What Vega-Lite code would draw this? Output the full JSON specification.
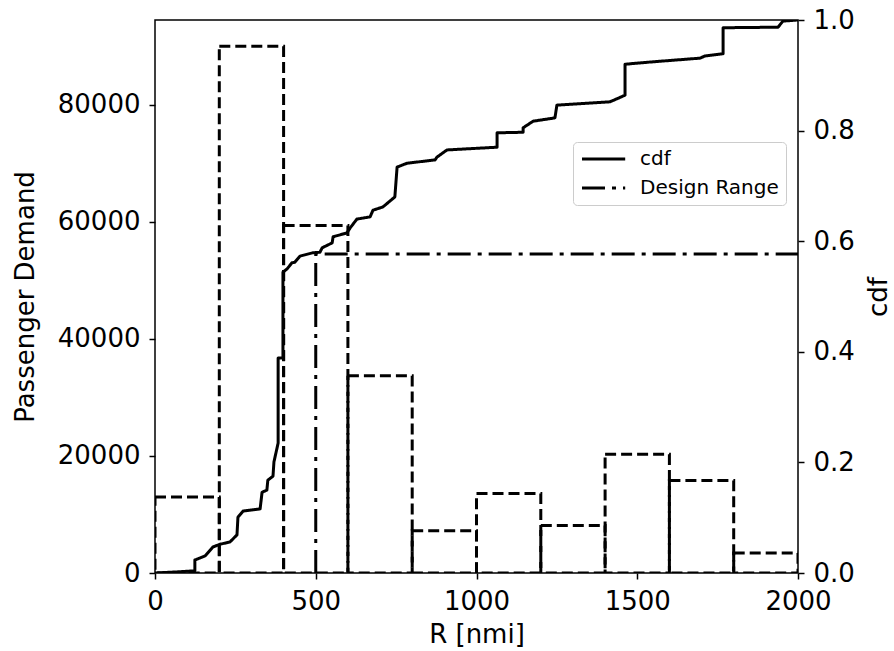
{
  "$schema": "https://vega.github.io/schema/vega-lite/v6.json",
  "autosize": {"type": "none"},
  "width": 643,
  "height": 553,
  "padding": {"left": 155, "top": 20, "right": 96, "bottom": 78},
  "background": "white",
  "config": {
    "view": {"stroke": "black", "strokeWidth": 1.5},
    "font": "DejaVu Sans",
    "axis": {
      "grid": false,
      "domain": false,
      "labelFlush": false,
      "tickColor": "black",
      "tickWidth": 1.5,
      "tickSize": 6,
      "labelFont": "DejaVu Sans",
      "labelFontSize": 26,
      "labelColor": "black",
      "labelPadding": 9,
      "titleFont": "DejaVu Sans",
      "titleFontSize": 26,
      "titleFontWeight": "normal",
      "titleColor": "black"
    }
  },
  "datasets": {
    "hist": [
      {"start": 0, "end": 200, "demand": 13000},
      {"start": 200, "end": 400, "demand": 90000},
      {"start": 400, "end": 600, "demand": 59400},
      {"start": 600, "end": 800, "demand": 33700},
      {"start": 800, "end": 1000, "demand": 7200},
      {"start": 1000, "end": 1200, "demand": 13600},
      {"start": 1200, "end": 1400, "demand": 8100},
      {"start": 1400, "end": 1600, "demand": 20300},
      {"start": 1600, "end": 1800, "demand": 15800},
      {"start": 1800, "end": 2000, "demand": 3400}
    ],
    "lines": [
      {"series": "cdf", "i": 0, "R": 0, "cdf": 0},
      {"series": "cdf", "i": 1, "R": 68, "cdf": 0.002},
      {"series": "cdf", "i": 2, "R": 124, "cdf": 0.004},
      {"series": "cdf", "i": 3, "R": 124, "cdf": 0.0235},
      {"series": "cdf", "i": 4, "R": 156, "cdf": 0.031},
      {"series": "cdf", "i": 5, "R": 180, "cdf": 0.047},
      {"series": "cdf", "i": 6, "R": 202, "cdf": 0.052},
      {"series": "cdf", "i": 7, "R": 233, "cdf": 0.056},
      {"series": "cdf", "i": 8, "R": 255, "cdf": 0.069},
      {"series": "cdf", "i": 9, "R": 258, "cdf": 0.101},
      {"series": "cdf", "i": 10, "R": 274, "cdf": 0.112},
      {"series": "cdf", "i": 11, "R": 327, "cdf": 0.116},
      {"series": "cdf", "i": 12, "R": 333, "cdf": 0.146},
      {"series": "cdf", "i": 13, "R": 348, "cdf": 0.150},
      {"series": "cdf", "i": 14, "R": 351, "cdf": 0.168},
      {"series": "cdf", "i": 15, "R": 367, "cdf": 0.175},
      {"series": "cdf", "i": 16, "R": 370, "cdf": 0.201},
      {"series": "cdf", "i": 17, "R": 383, "cdf": 0.235},
      {"series": "cdf", "i": 18, "R": 383, "cdf": 0.389},
      {"series": "cdf", "i": 19, "R": 398, "cdf": 0.389},
      {"series": "cdf", "i": 20, "R": 398, "cdf": 0.544},
      {"series": "cdf", "i": 21, "R": 411, "cdf": 0.550},
      {"series": "cdf", "i": 22, "R": 426, "cdf": 0.561},
      {"series": "cdf", "i": 23, "R": 435, "cdf": 0.562},
      {"series": "cdf", "i": 24, "R": 451, "cdf": 0.573},
      {"series": "cdf", "i": 25, "R": 491, "cdf": 0.579},
      {"series": "cdf", "i": 26, "R": 513, "cdf": 0.580},
      {"series": "cdf", "i": 27, "R": 520, "cdf": 0.588},
      {"series": "cdf", "i": 28, "R": 551, "cdf": 0.597},
      {"series": "cdf", "i": 29, "R": 554, "cdf": 0.608},
      {"series": "cdf", "i": 30, "R": 597, "cdf": 0.615},
      {"series": "cdf", "i": 31, "R": 607, "cdf": 0.624},
      {"series": "cdf", "i": 32, "R": 628, "cdf": 0.640},
      {"series": "cdf", "i": 33, "R": 669, "cdf": 0.644},
      {"series": "cdf", "i": 34, "R": 678, "cdf": 0.656},
      {"series": "cdf", "i": 35, "R": 709, "cdf": 0.662},
      {"series": "cdf", "i": 36, "R": 746, "cdf": 0.680},
      {"series": "cdf", "i": 37, "R": 753, "cdf": 0.734},
      {"series": "cdf", "i": 38, "R": 784, "cdf": 0.741},
      {"series": "cdf", "i": 39, "R": 871, "cdf": 0.747},
      {"series": "cdf", "i": 40, "R": 877, "cdf": 0.752},
      {"series": "cdf", "i": 41, "R": 908, "cdf": 0.765},
      {"series": "cdf", "i": 42, "R": 1064, "cdf": 0.770},
      {"series": "cdf", "i": 43, "R": 1064, "cdf": 0.796},
      {"series": "cdf", "i": 44, "R": 1145, "cdf": 0.797},
      {"series": "cdf", "i": 45, "R": 1145, "cdf": 0.805},
      {"series": "cdf", "i": 46, "R": 1176, "cdf": 0.817},
      {"series": "cdf", "i": 47, "R": 1244, "cdf": 0.823},
      {"series": "cdf", "i": 48, "R": 1250, "cdf": 0.846},
      {"series": "cdf", "i": 49, "R": 1415, "cdf": 0.852},
      {"series": "cdf", "i": 50, "R": 1462, "cdf": 0.864},
      {"series": "cdf", "i": 51, "R": 1462, "cdf": 0.920},
      {"series": "cdf", "i": 52, "R": 1540, "cdf": 0.924},
      {"series": "cdf", "i": 53, "R": 1695, "cdf": 0.931},
      {"series": "cdf", "i": 54, "R": 1711, "cdf": 0.935},
      {"series": "cdf", "i": 55, "R": 1767, "cdf": 0.939},
      {"series": "cdf", "i": 56, "R": 1767, "cdf": 0.986},
      {"series": "cdf", "i": 57, "R": 1938, "cdf": 0.987},
      {"series": "cdf", "i": 58, "R": 1953, "cdf": 0.998},
      {"series": "cdf", "i": 59, "R": 2000, "cdf": 1.0},
      {"series": "Design Range", "i": 0, "R": 500, "cdf": 0},
      {"series": "Design Range", "i": 1, "R": 500, "cdf": 0.577},
      {"series": "Design Range", "i": 2, "R": 2000, "cdf": 0.577}
    ]
  },
  "layer": [
    {
      "data": {"name": "hist"},
      "mark": {"type": "rect", "fill": "transparent", "stroke": "black", "strokeWidth": 3, "strokeDash": [11, 5], "clip": true},
      "encoding": {
        "x": {"field": "start", "type": "quantitative", "scale": {"domain": [0, 2000], "nice": false},
              "axis": {"values": [0, 500, 1000, 1500, 2000], "format": "d", "title": "R [nmi]", "titleX": 321.5, "titleY": 69, "titleBaseline": "alphabetic"}},
        "x2": {"field": "end"},
        "y": {"field": "demand", "type": "quantitative", "scale": {"domain": [0, 94500], "nice": false},
              "axis": {"orient": "left", "values": [0, 20000, 40000, 60000, 80000], "format": "d", "title": "Passenger Demand", "titleX": -122, "titleY": 276.5, "titleBaseline": "alphabetic", "titleAngle": -90}},
        "y2": {"datum": 0}
      }
    },
    {
      "data": {"name": "lines"},
      "mark": {"type": "line", "color": "black", "strokeWidth": 3, "strokeJoin": "round", "clip": true},
      "encoding": {
        "x": {"field": "R", "type": "quantitative"},
        "y": {"field": "cdf", "type": "quantitative", "scale": {"domain": [0, 1], "nice": false},
              "axis": {"orient": "right", "values": [0, 0.2, 0.4, 0.6, 0.8, 1.0], "format": ".1f", "title": "cdf", "titleX": 88, "titleY": 276.5, "titleBaseline": "alphabetic", "titleAngle": 270}},
        "order": {"field": "i", "type": "quantitative"},
        "strokeDash": {
          "field": "series", "type": "nominal",
          "scale": {"domain": ["cdf", "Design Range"], "range": [[1, 0], [23, 7, 4, 7]]},
          "legend": {
            "title": null,
            "orient": "none",
            "legendX": 418,
            "legendY": 122,
            "symbolType": "M-1,0H4.4",
            "symbolSize": 256,
            "symbolStrokeWidth": 3,
            "symbolStrokeColor": "black",
            "symbolFillColor": "transparent",
            "labelFont": "DejaVu Sans",
            "labelFontSize": 20,
            "labelColor": "black",
            "labelOffset": 40,
            "labelLimit": 0,
            "padding": 7,
            "rowPadding": 9,
            "strokeColor": "#cccccc",
            "fillColor": "white",
            "cornerRadius": 4
          }
        }
      }
    }
  ],
  "resolve": {"scale": {"y": "independent"}}
}
